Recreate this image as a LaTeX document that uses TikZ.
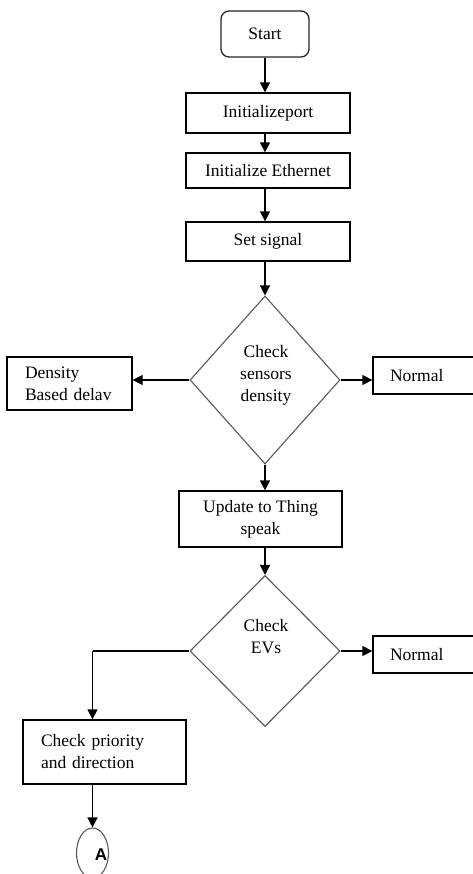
\documentclass[tikz,border=0pt]{standalone}
\usepackage{fontspec}
\setmainfont{Liberation Serif}
\newfontfamily\labelsans{Liberation Sans}
\usetikzlibrary{shapes.geometric,arrows.meta}
\begin{document}
\begin{tikzpicture}[x=1pt,y=-1pt,
  font=\fontsize{17.5}{22}\selectfont,
  stepbox/.style={draw=black,line width=1.3pt,rectangle,inner sep=0pt,align=center},
  sidebox/.style={stepbox,align=left},
  decision/.style={draw=black!65,line width=1.1pt,diamond,inner sep=0pt,align=center},
  terminal/.style={stepbox,rounded corners=8pt,draw=black!85},
  connector/.style={draw=black!65,line width=1.1pt,ellipse,inner sep=0pt},
  flow/.style={line width=1.4pt,-{Triangle[length=10pt,width=10pt]}},
  plain/.style={line width=1.4pt}]
\useasboundingbox (0,0) rectangle (473,874);

% main column
\node[terminal,minimum width=88pt,minimum height=46pt] (start) at (265,34) {Start};
\node[stepbox,minimum width=164pt,minimum height=40pt] (init) at (268,113) {Initializeport};
\node[stepbox,minimum width=164pt,minimum height=35pt] (eth) at (268,170.5) {Initialize Ethernet};
\node[stepbox,minimum width=164pt,minimum height=39pt] (sig) at (268,241.5) {Set signal};

\node[decision,minimum width=150pt,minimum height=168pt] (d1) at (265,380) {};
\node[align=center,inner sep=0pt] (d1txt) at (266,375) {Check\\sensors\\density};

\node[stepbox,minimum width=163pt,minimum height=56pt] (upd) at (260.5,519) {Update to Thing\\speak};

\node[decision,minimum width=150pt,minimum height=151pt] (d2) at (265,651) {};
\node[align=center,inner sep=0pt] (d2txt) at (266,637) {Check\\EVs};

% side branches
\node[sidebox,minimum width=125pt,minimum height=53pt,text width=89pt] (dens) at (69.5,383.5) {Density\\Based delav};
\node[sidebox,minimum width=107pt,minimum height=37pt,text width=73pt] (norm1) at (426.5,375.5) {Normal};
\node[sidebox,minimum width=107pt,minimum height=37pt,text width=73pt] (norm2) at (426.5,654.5) {Normal};
\node[sidebox,minimum width=163pt,minimum height=64pt,text width=127pt] (prio) at (104.5,752) {Check priority\\and direction};

% off-page connector
\node[connector,minimum width=32pt,minimum height=50pt] (a) at (92.5,853) {};
\node[font=\labelsans\bfseries\fontsize{17}{20}\selectfont,inner sep=0pt] (atxt) at (101,855) {A};

\coordinate (bend) at (92.5,651);

% connectors
\draw[flow] (start.south) -- (start.south |- init.north);
\draw[flow] (init.south -| start.south) -- (start.south |- eth.north);
\draw[flow] (eth.south -| start.south) -- (start.south |- sig.north);
\draw[flow] (sig.south -| start.south) -- (d1.north);
\draw[flow] (d1.west) -- (dens.east |- d1.west);
\draw[flow] (d1.east) -- (norm1.west |- d1.east);
\draw[flow] (d1.south) -- (d1.south |- upd.north);
\draw[flow] (upd.south -| d2.north) -- (d2.north);
\draw[flow] (d2.east) -- (norm2.west |- d2.east);
\draw[plain] (d2.west) -- (bend);
\draw[flow] (bend) -- (bend |- prio.north);
\draw[flow] (bend |- prio.south) -- (a.north);
\end{tikzpicture}
\end{document}
